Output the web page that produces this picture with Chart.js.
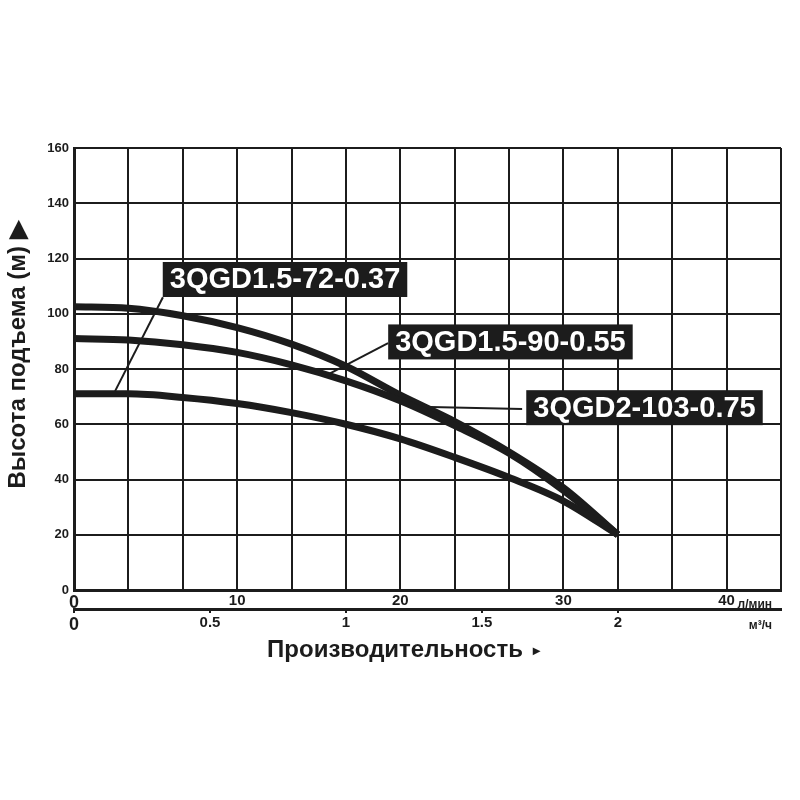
<!DOCTYPE html>
<html>
<head>
<meta charset="utf-8">
<script src="https://cdn.jsdelivr.net/npm/chart.js@4.4.0/dist/chart.umd.min.js"></script>
<style>
  html, body { margin: 0; padding: 0; background: #fff; }
  #wrap { width: 800px; height: 800px; }
</style>
</head>
<body>
<div id="wrap"><canvas id="c" width="800" height="800"></canvas></div>
<script>
// flow, m3/h (read at each grid column)
var flow = [0, 0.2, 0.4, 0.6, 0.8, 1.0, 1.2, 1.4, 1.6, 1.8, 2.0];
// head, m
var head_72 = [71, 71, 69.7, 67.5, 64.2, 60, 54.7, 48, 40.7, 32.2, 20];
var head_90 = [91, 90.5, 88.8, 86, 81.5, 75.7, 68.5, 59.5, 49.5, 36, 20];
var head_103 = [102.5, 102, 99.3, 95, 89, 81, 70.5, 61, 50, 37, 20];
var models = ['3QGD1.5-72-0.37', '3QGD1.5-90-0.55', '3QGD2-103-0.75'];

// axes
var grid_m3h = [0, 0.2, 0.4, 0.6, 0.8, 1.0, 1.2, 1.4, 1.6, 1.8, 2.0, 2.2, 2.4, 2.6];
var ticks_lmin = [0, 10, 20, 30, 40];
var ticks_m3h = [0, 0.5, 1, 1.5, 2];
var ticks_head = [0, 20, 40, 60, 80, 100, 120, 140, 160];

var INK = '#1c1c1c';
var FONT = '"Liberation Sans", Arial, sans-serif';

function points(ys) {
  return flow.map(function (x, i) { return { x: x, y: ys[i] }; });
}

function curve(label, ys) {
  return {
    label: label,
    data: points(ys),
    borderColor: INK,
    borderWidth: 7,
    pointRadius: 0,
    fill: false,
    cubicInterpolationMode: 'monotone'
  };
}

function setTicks(list) {
  return function (s) { s.ticks = list.map(function (v) { return { value: v }; }); };
}

function tickFont(ctx) {
  return { family: FONT, weight: 'bold', size: ctx.tick && ctx.tick.value === 0 ? 18 : 15 };
}

/* callout boxes, text, titles and units */
var callouts = {
  id: 'callouts',
  afterDraw: function (chart, args, opts) {
    var c = chart.ctx, x = chart.scales.x, y = chart.scales.y;
    c.save();
    opts.items.forEach(function (it, i) {
      c.strokeStyle = INK;
      c.lineWidth = 2;
      c.beginPath();
      c.moveTo(x.getPixelForValue(it.from[0]), y.getPixelForValue(it.from[1]));
      c.lineTo(x.getPixelForValue(it.to[0]), y.getPixelForValue(it.to[1]));
      c.stroke();

      var cx = x.getPixelForValue(it.at[0]), cy = y.getPixelForValue(it.at[1]);
      c.font = 'bold 29px ' + FONT;
      var w = c.measureText(models[i]).width + 14, h = 35;
      c.fillStyle = INK;
      c.fillRect(cx - w / 2, cy - h / 2, w, h);
      c.fillStyle = '#fff';
      c.textAlign = 'center';
      c.textBaseline = 'middle';
      c.fillText(models[i], cx, cy + 1);
    });

    // units at the right end of the flow rows
    c.fillStyle = INK;
    c.textAlign = 'right';
    c.textBaseline = 'middle';
    c.font = 'bold 12px ' + FONT;
    c.fillText('л/мин', 772, 605);
    c.fillText('м³/ч', 772, 626);

    // axis titles
    c.font = 'bold 24px ' + FONT;
    c.textAlign = 'center';
    c.fillText('Производительность', 395, 650);
    c.font = 'bold 14px ' + FONT;
    c.fillText('▸', 536, 651);
    c.font = 'bold 24px ' + FONT;
    c.translate(18, 355);
    c.rotate(-Math.PI / 2);
    c.fillText('Высота подъема (м) ▶', 0, 0);
    c.restore();
  }
};

new Chart(document.getElementById('c'), {
  type: 'line',
  data: {
    datasets: [
      curve(models[0], head_72),
      curve(models[1], head_90),
      curve(models[2], head_103)
    ]
  },
  options: {
    responsive: false,
    animation: false,
    layout: { padding: { top: 148, right: 19, bottom: 161, left: 0 } },
    plugins: {
      legend: { display: false },
      tooltip: { enabled: false },
      callouts: {
        items: [
          { at: [0.776, 112.4], from: [0.327, 106], to: [0.151, 72] },
          { at: [1.605, 89.8], from: [1.155, 89.4], to: [0.94, 78.3] },
          { at: [2.098, 66], from: [1.648, 65.5], to: [1.31, 66.2] }
        ]
      }
    },
    scales: {
      x: {
        type: 'linear', position: 'bottom', min: 0, max: 2.6,
        afterBuildTicks: setTicks(grid_m3h),
        ticks: { display: false },
        grid: { color: INK, lineWidth: 2, drawTicks: false },
        border: { color: INK, width: 3 },
        afterFit: function (s) { s.height = 0; }
      },
      lmin: {
        type: 'linear', position: 'bottom', min: 0, max: 2.6 * 1000 / 60,
        afterBuildTicks: setTicks(ticks_lmin),
        ticks: { color: INK, font: tickFont, padding: 2, maxRotation: 0,
                 callback: function (v) { return String(v); } },
        grid: { display: false, drawTicks: false },
        border: { display: false },
        afterFit: function (s) { s.height = 19; }
      },
      m3h: {
        type: 'linear', position: 'bottom', min: 0, max: 2.6,
        afterBuildTicks: setTicks(ticks_m3h),
        ticks: { color: INK, font: tickFont, padding: 1, maxRotation: 0,
                 callback: function (v) { return String(v); } },
        grid: { drawOnChartArea: false, color: INK, lineWidth: 2, tickLength: 4 },
        border: { color: INK, width: 3 },
        afterFit: function (s) { s.height = 30; }
      },
      y: {
        type: 'linear', position: 'left', min: 0, max: 160,
        afterBuildTicks: setTicks(ticks_head),
        ticks: { color: INK, font: { family: FONT, weight: 'bold', size: 13 }, padding: 5 },
        grid: { color: INK, lineWidth: 2, drawTicks: false },
        border: { color: INK, width: 3 },
        afterFit: function (s) { s.width = 74; }
      }
    }
  },
  plugins: [callouts]
});
</script>
</body>
</html>
